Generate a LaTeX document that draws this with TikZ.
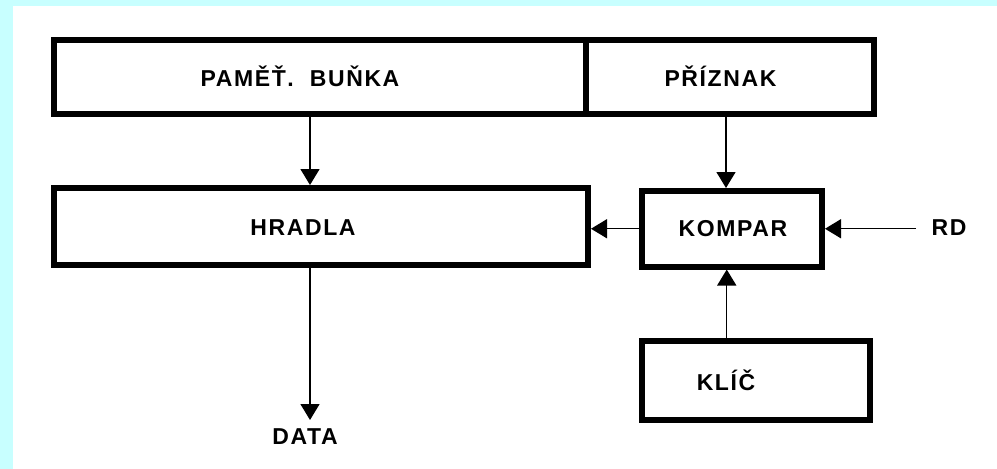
\documentclass[tikz,border=0pt]{standalone}
\usepackage{fontspec}
\setmainfont{Liberation Sans}
\usetikzlibrary{arrows.meta}
\definecolor{bgcyan}{RGB}{200,255,255}
\begin{document}
\begin{tikzpicture}[x=1pt,y=-1pt,
  blk/.style={draw,line width=6pt,inner sep=0pt},
  lbl/.style={font=\fontsize{23}{25}\selectfont\bfseries\addfontfeature{LetterSpace=7},inner sep=0pt},
  conn/.style={line width=1.4pt,-{Triangle[length=16pt,width=19pt]}}]
% page frame
\fill[bgcyan] (0,0) rectangle (997,469);
\fill[white] (13,6) rectangle (997,469);
\useasboundingbox (0,0) rectangle (997,469);

% blocks
\node[blk,minimum width=532pt,minimum height=74pt] (mem) at (320,77) {};
\node[blk,minimum width=288pt,minimum height=74pt] (flag) at (730,77) {};
\node[blk,minimum width=534pt,minimum height=77pt] (gates) at (321,226.5) {};
\node[blk,minimum width=180pt,minimum height=75.5pt] (cmp) at (732,228.75) {};
\node[blk,minimum width=227.5pt,minimum height=78.5pt] (key) at (755.75,380.25) {};

% labels
\node[lbl] (tmem) at (300,76) {PAMĚŤ.\ \ BUŇKA};
\node[lbl] (tflag) at (720.5,76) {PŘÍZNAK};
\node[lbl] (tgates) at (303,228) {HRADLA};
\node[lbl] (tcmp) at (733,229) {KOMPAR};
\node[lbl] (tkey) at (726,380) {KLÍČ};
\node[lbl] (tdata) at (305,437) {DATA};
\node[lbl] (trd) at (949,228) {RD};

% free ends
\coordinate (rdin) at (916,228.75);
\coordinate (dataout) at (310,420);

% connectors
\draw[conn] ([xshift=-10pt]mem.south) -- ([xshift=-10pt]mem.south |- gates.north);
\draw[conn] ([xshift=-4pt]flag.south) -- ([xshift=-4pt]flag.south |- cmp.north);
\draw[conn] (cmp.west) -- (cmp.west -| gates.east);
\draw[conn] (rdin) -- (cmp.east);
\draw[conn] ([xshift=-29pt]key.north) -- ([xshift=-29pt]key.north |- cmp.south);
\draw[conn] (gates.south -| dataout) -- (dataout);
\end{tikzpicture}
\end{document}
